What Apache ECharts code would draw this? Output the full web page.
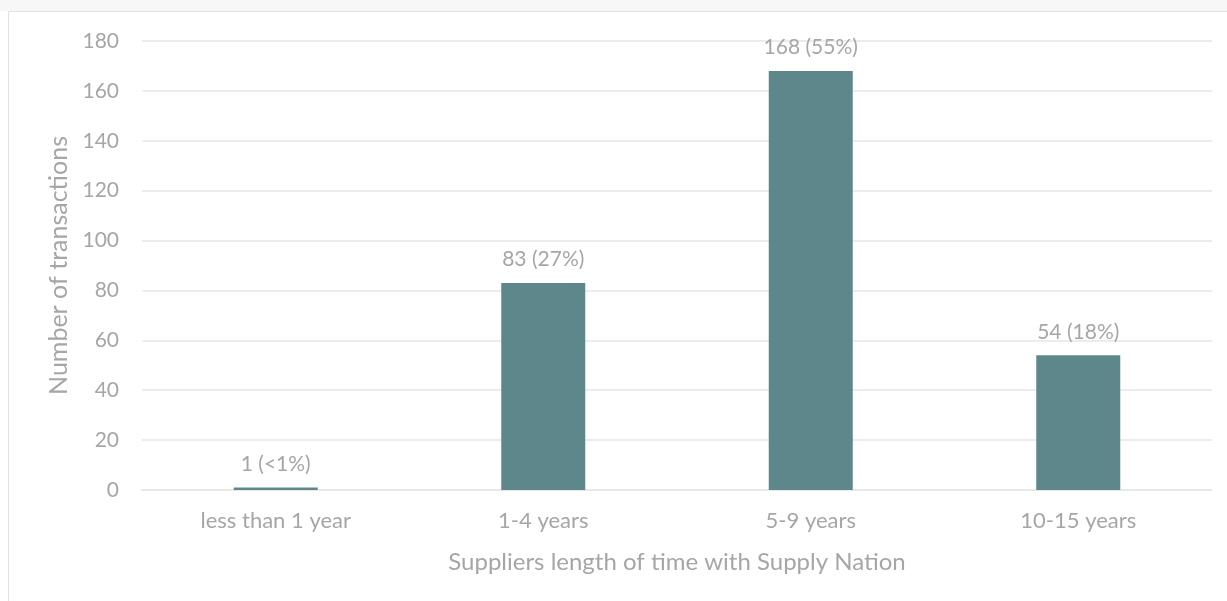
<!DOCTYPE html>
<html>
<head>
<meta charset="utf-8">
<script src="https://cdn.jsdelivr.net/npm/echarts@6/dist/echarts.min.js"></script>
<style>
  html, body { margin: 0; padding: 0; background: #ffffff; }
  #chart { width: 1227px; height: 601px; }
</style>
</head>
<body>
<div id="chart"></div>
<script>
// Transactions by how long the supplier has been with Supply Nation
const categories = ['less than 1 year', '1-4 years', '5-9 years', '10-15 years'];
const transactions = [1, 83, 168, 54];
const shares = ['<1%', '27%', '55%', '18%'];
const yTicks = [0, 20, 40, 60, 80, 100, 120, 140, 160, 180];

const textGrey = '#a6a6a6';
const font = 'Lato, "Open Sans", sans-serif';

const chart = echarts.init(document.getElementById('chart'), null, { renderer: 'canvas' });

chart.setOption({
  animation: false,
  backgroundColor: '#ffffff',
  graphic: [
    { type: 'rect', shape: { x: 0, y: 0, width: 1227, height: 11 }, style: { fill: '#f7f7f7' }, silent: true },
    { type: 'line', shape: { x1: 8.5, y1: 11.5, x2: 1227, y2: 11.5 }, style: { stroke: '#e2e2e2', lineWidth: 1 }, silent: true },
    { type: 'line', shape: { x1: 8.5, y1: 11.5, x2: 8.5, y2: 601 }, style: { stroke: '#e2e2e2', lineWidth: 1 }, silent: true }
  ],
  grid: { left: 142, right: 15, top: 41, bottom: 111, containLabel: false },
  xAxis: {
    type: 'category',
    data: categories,
    axisLine: { show: true, lineStyle: { color: '#e6e6e6', width: 1.5 } },
    axisTick: { show: false },
    axisLabel: { color: textGrey, fontFamily: font, fontSize: 22, margin: 20 },
    name: 'Suppliers length of time with Supply Nation',
    nameLocation: 'middle',
    nameGap: 60,
    nameTextStyle: { color: textGrey, fontFamily: font, fontSize: 24 }
  },
  yAxis: {
    type: 'value',
    min: yTicks[0],
    max: yTicks[yTicks.length - 1],
    interval: yTicks[1] - yTicks[0],
    axisLine: { show: false },
    axisTick: { show: false },
    splitLine: { lineStyle: { color: '#e6e6e6', width: 1.5 } },
    axisLabel: { color: textGrey, fontFamily: font, fontSize: 21, margin: 23 },
    name: 'Number of transactions',
    nameLocation: 'middle',
    nameGap: 70,
    nameRotate: 90,
    nameTextStyle: { color: textGrey, fontFamily: font, fontSize: 25 }
  },
  series: [{
    type: 'bar',
    data: transactions,
    barWidth: 84,
    itemStyle: { color: '#5e878c' },
    label: {
      show: true,
      position: 'top',
      distance: 13,
      color: textGrey,
      fontFamily: font,
      fontSize: 21,
      formatter: p => p.value + ' (' + shares[p.dataIndex] + ')'
    }
  }]
});
</script>
</body>
</html>
